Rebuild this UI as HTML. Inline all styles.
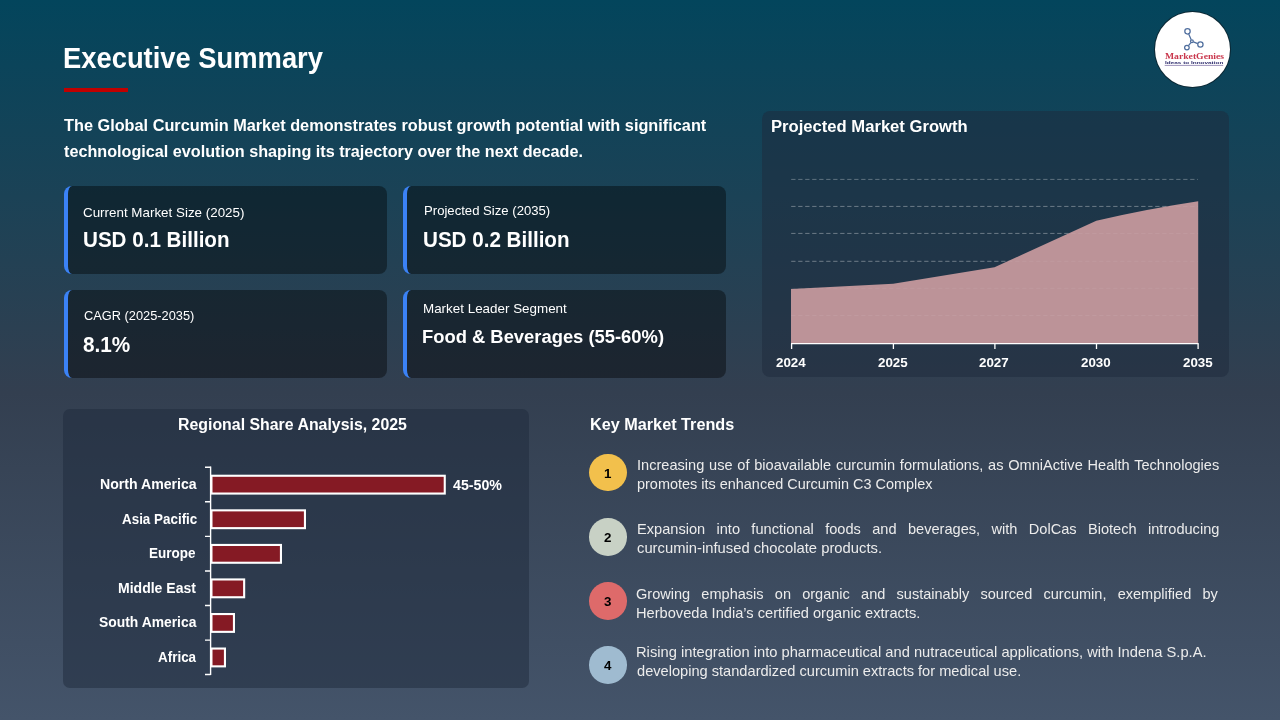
<!DOCTYPE html>
<html lang="en">
<head>
<meta charset="utf-8">
<title>Executive Summary</title>
<style>
html,body{margin:0;padding:0}
body{width:1280px;height:720px;overflow:hidden;position:relative;
 background:linear-gradient(180deg,#03455c 0%,#333f50 54.5%,#44546a 100%);
 font-family:'Liberation Sans',sans-serif;color:#fff}
.t{position:absolute;margin:0;font-weight:normal;white-space:nowrap;transform-origin:0 0}
.j{text-align:justify;text-align-last:justify}
.card{position:absolute;box-sizing:border-box;width:323px;height:88px;border-radius:8px;border-left:4px solid #3b82f6;background:rgba(0,0,0,.4);background-clip:padding-box}
.panel{position:absolute;border-radius:9px;background:rgba(30,41,59,.5)}
.rule{position:absolute;left:64px;top:88px;width:63.8px;height:4px;background:#c00000}
.dot{position:absolute;left:589.1px;width:37.8px;height:37.6px;border-radius:50%}
svg{position:absolute;left:0;top:0}
.logo{position:absolute;left:1155px;top:11.8px;width:75.4px;height:75.2px;border-radius:50%;background:#fff;box-shadow:0 0 0 1px #0b2733}
.lg1{position:absolute;white-space:nowrap;font-family:'Liberation Serif',serif;font-weight:bold;color:#c9364c;transform-origin:0 0}
.lg2{position:absolute;white-space:nowrap;font-family:'Liberation Sans',sans-serif;font-weight:bold;color:#2b2a6b;transform-origin:0 0}
</style>
</head>
<body>
<div class="rule"></div>
<div class="card" style="left:64px;top:186px"></div>
<div class="card" style="left:403px;top:186px"></div>
<div class="card" style="left:64px;top:290px"></div>
<div class="card" style="left:403px;top:290px"></div>
<div class="panel" style="left:762px;top:110.9px;width:466.6px;height:266.6px;border-radius:8px"></div>
<div class="panel" style="left:63px;top:409px;width:465.8px;height:278.8px;border-radius:7px"></div>

<svg width="1280" height="720" viewBox="0 0 1280 720">
 <!-- area chart -->
 <g stroke="rgba(255,255,255,.3)" stroke-width="1" stroke-dasharray="4.3 2.7" fill="none">
  <path d="M791.2 179.4H1198M791.2 206.4H1198M791.2 233.4H1198M791.2 261.3H1198"/>
 </g>
 <path d="M791 343.5V289.1L893.2 283.7L994.5 267.3L1096.3 220.7Q1150 208.5 1198.2 201.3V343.5Z" fill="#bc9398"/>
 <path d="M791.2 315.5H1198M791.2 288.3H1198M791.2 261.3H1198M791.2 233.4H1198M791.2 206.4H1198" stroke="rgba(255,255,255,.07)" stroke-width="1" stroke-dasharray="4.3 2.7" fill="none"/>
 <g stroke="#fff" stroke-width="1.3" fill="none">
  <path d="M791 343.7H1198.7"/>
  <path d="M791.6 343.7V349M893.4 343.7V349M994.9 343.7V349M1096.5 343.7V349M1198.1 343.7V349"/>
 </g>
 <!-- bar chart -->
 <g fill="#fff">
  <rect x="210.5" y="474.7" width="235.3" height="19.9"/>
  <rect x="210.5" y="509.3" width="95.5" height="19.9"/>
  <rect x="210.5" y="543.9" width="71.5" height="19.9"/>
  <rect x="210.5" y="578.4" width="34.7" height="19.9"/>
  <rect x="210.5" y="613.0" width="24.5" height="19.9"/>
  <rect x="210.5" y="647.5" width="15.5" height="19.9"/>
 </g>
 <g fill="#851a24">
  <rect x="212.5" y="476.8" width="231.2" height="15.7"/>
  <rect x="212.5" y="511.4" width="91.4" height="15.7"/>
  <rect x="212.5" y="546.0" width="67.4" height="15.7"/>
  <rect x="212.5" y="580.5" width="30.6" height="15.7"/>
  <rect x="212.5" y="615.1" width="20.4" height="15.7"/>
  <rect x="212.5" y="649.6" width="11.4" height="15.7"/>
 </g>
 <g stroke="#fff" stroke-width="1.4" fill="none">
  <path d="M210.6 466.5V675"/>
  <path d="M205 467.2H210.6M205 501.8H210.6M205 536.4H210.6M205 571H210.6M205 605.5H210.6M205 640.1H210.6M205 674.5H210.6"/>
 </g>
</svg>

<div class="dot" style="top:453.7px;background:#f2c04c"></div>
<div class="dot" style="top:518.1px;background:#c8d1c5"></div>
<div class="dot" style="top:582.2px;background:#de6a6a"></div>
<div class="dot" style="top:646.2px;background:#9fbbd0"></div>

<h1 class="t" id="title" style="left:62.80px;top:42px;font-size:28.8px;line-height:32px;font-weight:bold;transform:scaleX(0.9498)">Executive Summary</h1>
<p class="t" id="sub1" style="left:63.55px;top:116px;font-size:16.8px;line-height:19px;font-weight:bold;transform:scaleX(0.9702)">The Global Curcumin Market demonstrates robust growth potential with significant</p>
<p class="t" id="sub2" style="left:63.51px;top:142px;font-size:16.8px;line-height:19px;font-weight:bold;transform:scaleX(0.9644)">technological evolution shaping its trajectory over the next decade.</p>
<div class="t" id="c1l" style="left:82.60px;top:205px;font-size:13.2px;line-height:15px;transform:scaleX(1.0150)">Current Market Size (2025)</div>
<div class="t" id="c1v" style="left:82.60px;top:227px;font-size:21.6px;line-height:25px;font-weight:bold;transform:scaleX(0.9541)">USD 0.1 Billion</div>
<div class="t" id="c2l" style="left:423.64px;top:203px;font-size:13.2px;line-height:15px;transform:scaleX(0.9954)">Projected Size (2035)</div>
<div class="t" id="c2v" style="left:423.20px;top:227px;font-size:21.6px;line-height:25px;font-weight:bold;transform:scaleX(0.9541)">USD 0.2 Billion</div>
<div class="t" id="c3l" style="left:84.36px;top:308px;font-size:13.2px;line-height:15px;transform:scaleX(0.9715)">CAGR (2025-2035)</div>
<div class="t" id="c3v" style="left:83.00px;top:332px;font-size:21.6px;line-height:25px;font-weight:bold;transform:scaleX(0.9604)">8.1%</div>
<div class="t" id="c4l" style="left:423.16px;top:301px;font-size:13.2px;line-height:15px;transform:scaleX(1.0163)">Market Leader Segment</div>
<div class="t" id="c4v" style="left:422.22px;top:326px;font-size:19.2px;line-height:21px;font-weight:bold;transform:scaleX(0.9576)">Food &amp; Beverages (55-60%)</div>
<h2 class="t" id="pmg" style="left:770.72px;top:117px;font-size:16.8px;line-height:19px;font-weight:bold;transform:scaleX(0.9901)">Projected Market Growth</h2>
<h2 class="t" id="rsa" style="left:178.45px;top:415px;font-size:16.8px;line-height:19px;font-weight:bold;transform:scaleX(0.9462)">Regional Share Analysis, 2025</h2>
<h2 class="t" id="kmt" style="left:589.79px;top:415px;font-size:16.8px;line-height:19px;font-weight:bold;transform:scaleX(0.9666)">Key Market Trends</h2>
<p class="t" id="pct" style="left:453.46px;top:477px;font-size:14.4px;line-height:16px;font-weight:bold;transform:scaleX(0.9877)">45-50%</p>
<div class="t" id="xl0" style="left:776.45px;top:355px;font-size:13.2px;line-height:15px;font-weight:bold;transform:scaleX(1.0128)">2024</div>
<div class="t" id="xl1" style="left:878.04px;top:355px;font-size:13.2px;line-height:15px;font-weight:bold;transform:scaleX(1.0128)">2025</div>
<div class="t" id="xl2" style="left:979.44px;top:355px;font-size:13.2px;line-height:15px;font-weight:bold;transform:scaleX(1.0128)">2027</div>
<div class="t" id="xl3" style="left:1081.24px;top:355px;font-size:13.2px;line-height:15px;font-weight:bold;transform:scaleX(1.0128)">2030</div>
<div class="t" id="xl4" style="left:1183.44px;top:355px;font-size:13.2px;line-height:15px;font-weight:bold;transform:scaleX(1.0128)">2035</div>
<div class="t" id="bl0" style="left:99.95px;top:476px;font-size:14.4px;line-height:16px;font-weight:bold;transform:scaleX(0.9802)">North America</div>
<div class="t" id="bl1" style="left:122.45px;top:511px;font-size:14.4px;line-height:16px;font-weight:bold;transform:scaleX(0.9318)">Asia Pacific</div>
<div class="t" id="bl2" style="left:149.19px;top:545px;font-size:14.4px;line-height:16px;font-weight:bold;transform:scaleX(0.9363)">Europe</div>
<div class="t" id="bl3" style="left:118.43px;top:580px;font-size:14.4px;line-height:16px;font-weight:bold;transform:scaleX(0.9746)">Middle East</div>
<div class="t" id="bl4" style="left:98.60px;top:614px;font-size:14.4px;line-height:16px;font-weight:bold;transform:scaleX(0.9640)">South America</div>
<div class="t" id="bl5" style="left:157.64px;top:649px;font-size:14.4px;line-height:16px;font-weight:bold;transform:scaleX(0.9338)">Africa</div>
<div class="t" id="n0" style="left:604.28px;top:466px;font-size:13.2px;line-height:15px;font-weight:bold;color:#000;transform:scaleX(1.0128)">1</div>
<div class="t" id="n1" style="left:604.30px;top:530px;font-size:13.2px;line-height:15px;font-weight:bold;color:#000;transform:scaleX(1.0128)">2</div>
<div class="t" id="n2" style="left:604.42px;top:594px;font-size:13.2px;line-height:15px;font-weight:bold;color:#000;transform:scaleX(1.0128)">3</div>
<div class="t" id="n3" style="left:603.89px;top:658px;font-size:13.2px;line-height:15px;font-weight:bold;color:#000;transform:scaleX(1.0128)">4</div>
<p class="t j" id="p1a" style="left:637.11px;top:457px;width:574.74px;font-size:14.4px;line-height:16px;color:#ececec;transform:scaleX(1.0131)">Increasing use of bioavailable curcumin formulations, as OmniActive Health Technologies</p>
<p class="t" id="p1b" style="left:636.80px;top:476px;font-size:14.4px;line-height:16px;color:#ececec;transform:scaleX(1.0042)">promotes its enhanced Curcumin C3 Complex</p>
<p class="t j" id="p2a" style="left:636.68px;top:521px;width:574.37px;font-size:14.4px;line-height:16px;color:#ececec;transform:scaleX(1.0140)">Expansion into functional foods and beverages, with DolCas Biotech introducing</p>
<p class="t" id="p2b" style="left:636.80px;top:540px;font-size:14.4px;line-height:16px;color:#ececec;transform:scaleX(1.0278)">curcumin-infused chocolate products.</p>
<p class="t j" id="p3a" style="left:636.00px;top:586px;width:575.54px;font-size:14.4px;line-height:16px;color:#ececec;transform:scaleX(1.0109)">Growing emphasis on organic and sustainably sourced curcumin, exemplified by</p>
<p class="t" id="p3b" style="left:636.47px;top:605px;font-size:14.4px;line-height:16px;color:#ececec;transform:scaleX(1.0164)">Herboveda India’s certified organic extracts.</p>
<p class="t" id="p4a" style="left:636.47px;top:644px;font-size:14.4px;line-height:16px;color:#ececec;transform:scaleX(1.0219)">Rising integration into pharmaceutical and nutraceutical applications, with Indena S.p.A.</p>
<p class="t" id="p4b" style="left:637.20px;top:663px;font-size:14.4px;line-height:16px;color:#ececec;transform:scaleX(1.0155)">developing standardized curcumin extracts for medical use.</p>


<div class="logo"></div>
<svg width="1280" height="720" viewBox="0 0 1280 720">
 <g stroke="#4f6e9e" stroke-width="1.25" fill="none">
  <path d="M1188.7 33.9L1191.2 39.8M1193.4 41.9L1197.7 43.6M1190.9 42.6L1188.5 45.7"/>
  <circle cx="1187.5" cy="31.3" r="2.7"/>
  <circle cx="1200.4" cy="44.5" r="2.65"/>
  <circle cx="1186.9" cy="47.6" r="2.3"/>
  <circle cx="1191.9" cy="41.2" r="1.4"/>
 </g>
 <path d="M1164.7 65.4H1223.2" stroke="#5a4a8c" stroke-width=".6"/>
</svg>
<div class="lg1" id="lg1" style="left:1164.5px;top:52px;font-size:8.2px;line-height:9px;transform:scaleX(1.18)">MarketGenies</div>
<div class="lg2" id="lg2" style="left:1164.7px;top:60px;font-size:4px;line-height:5px;transform:scaleX(1.6)">Ideas to Innovation</div>
</body>
</html>
